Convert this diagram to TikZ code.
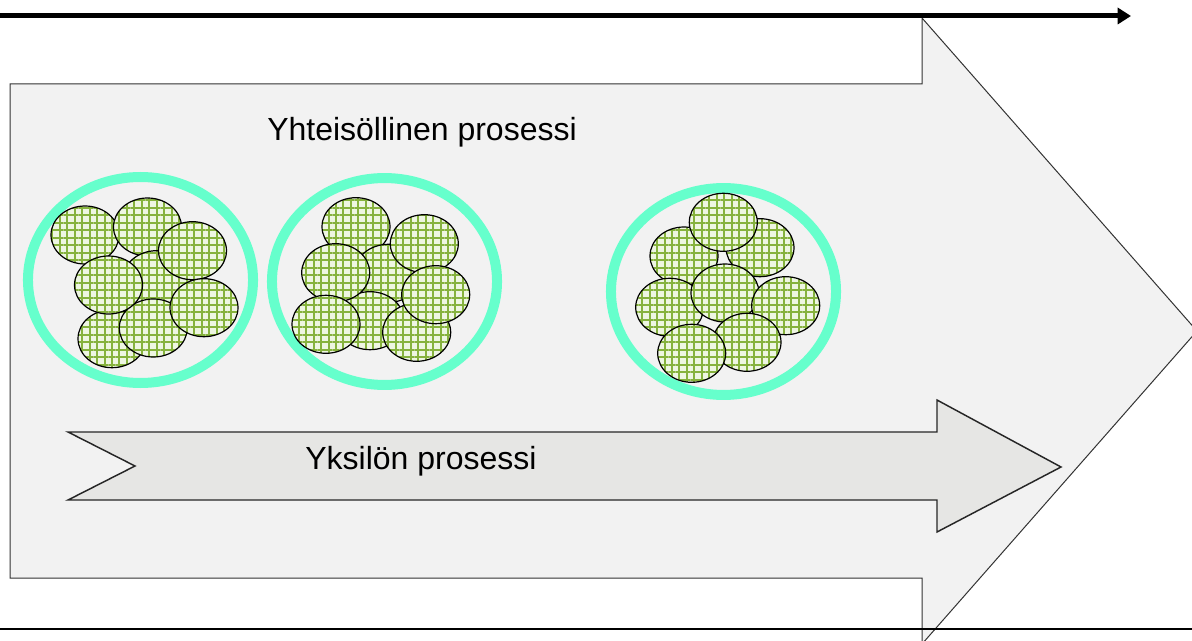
\documentclass[tikz,border=0pt]{standalone}
\usepackage{fontspec}
\setmainfont{Liberation Sans}
\usetikzlibrary{arrows.meta,patterns.meta}
\definecolor{bigfill}{HTML}{F2F2F2}
\definecolor{smallfill}{HTML}{E6E6E4}
\definecolor{ringcol}{HTML}{66FFCC}
\definecolor{blobbase}{HTML}{EEF6E2}
\definecolor{blobline}{HTML}{86B23E}
\tikzset{
  bigarrow/.style={fill=bigfill, draw=black!80, line width=0.75pt, line join=miter},
  smallarrow/.style={fill=smallfill, draw=black!85, line width=1.1pt, line join=miter},
  ring/.style={draw=ringcol, line width=7.5pt},
  blob/.style={fill=blobbase,
    postaction={pattern={Lines[angle=0,distance=5.6pt,line width=1.5pt]}, pattern color=blobline},
    postaction={pattern={Lines[angle=90,distance=5.6pt,line width=1.5pt]}, pattern color=blobline},
    postaction={draw=black, line width=0.9pt}},
  label/.style={font=\fontsize{24pt}{28pt}\selectfont, text=black, inner sep=0pt}
}
\begin{document}
\begin{tikzpicture}[x=0.75pt,y=-0.75pt]
\useasboundingbox (0,0) rectangle (1192,641);
\clip (0,0) rectangle (1192,641);
% big arrow
\path[bigarrow] (10,84) -- (922,84) -- (922,18) -- (1197,331) -- (922,644) -- (922,578) -- (10,578) -- cycle;
% top arrow
\coordinate (ta) at (0,16);
\coordinate (tb) at (1131,16);
\draw[line width=3.75pt, -{Triangle[length=10pt,width=12pt]}] (ta) -- (tb);
% bottom line
\coordinate (bl) at (0,629);
\coordinate (br) at (1192,629);
\draw[line width=0.9pt] (bl) -- (br);
% inner arrow
\path[smallarrow] (68,432) -- (937,432) -- (937,400) -- (1061,467) -- (937,532) -- (937,500) -- (68,500) -- (135,466) -- cycle;
% texts
\node[label] (yht) at (422,132) {Yhteisöllinen prosessi};
\node[label] (yks) at (421,461) {Yksilön prosessi};
% rings
\draw[ring] (140.5,280) ellipse [x radius=84.4pt, y radius=77.25pt];
\draw[ring] (384.5,281.5) ellipse [x radius=84.4pt, y radius=77.6pt];
\draw[ring] (723.5,291.5) ellipse [x radius=84.4pt, y radius=77.6pt];
% blobs group 1
\foreach \x/\y in {85/235, 147.5/227, 156.7/279.7, 112/338.7, 153.3/328, 108.5/285, 192.5/250.7, 204/307.7}
  \path[blob] (\x,\y) ellipse [x radius=25.5pt, y radius=21.75pt];
% blobs group 2
\foreach \x/\y in {356/226.7, 388.3/273.3, 370/320.7, 335.7/272.7, 424.3/243.7, 416.7/332.3, 435.7/294.7, 326/324.3}
  \path[blob] (\x,\y) ellipse [x radius=25.5pt, y radius=21.75pt];
% blobs group 3
\foreach \x/\y in {760/247.7, 684/256, 723.3/222.3, 669.7/307.3, 725/293, 785.7/305.7, 747/342.3, 691.7/353.3}
  \path[blob] (\x,\y) ellipse [x radius=25.5pt, y radius=21.75pt];
\end{tikzpicture}
\end{document}
